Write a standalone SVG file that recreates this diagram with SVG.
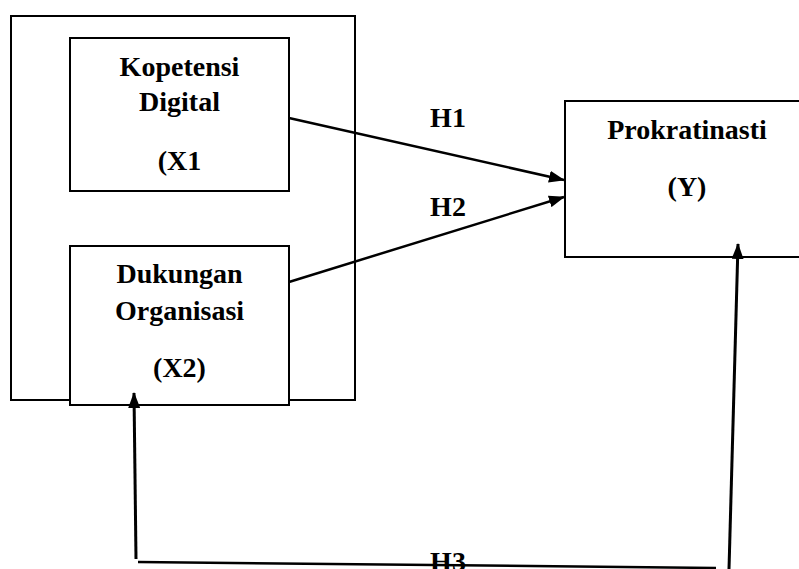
<svg xmlns="http://www.w3.org/2000/svg" width="799" height="569" viewBox="0 0 799 569">
<style>
.box{fill:#fff;stroke:#000;stroke-width:2}
.t{font-family:"Liberation Serif","Times New Roman",serif;font-weight:bold;font-size:28px;fill:#000;text-anchor:middle}
.c{stroke:#000;fill:none}
</style>
<defs>
<marker id="ah" viewBox="0 0 16 12" refX="15" refY="6" markerWidth="16" markerHeight="12" markerUnits="userSpaceOnUse" orient="auto">
<path d="M0,0 L16,6 L0,12 Z" fill="#000"/>
</marker>
</defs>
<rect width="799" height="569" fill="#fff"/>
<g id="group-x">
<rect class="box" x="11" y="16" width="344" height="384" fill="none"/>
</g>
<g id="x1">
<rect class="box" x="70" y="38" width="219" height="153"/>
<text class="t" x="179.5" y="76">Kopetensi</text>
<text class="t" x="179.5" y="111">Digital</text>
<text class="t" x="179.5" y="170">(X1</text>
</g>
<g id="x2">
<rect class="box" x="70" y="246" width="219" height="159"/>
<text class="t" x="179.5" y="283">Dukungan</text>
<text class="t" x="179.5" y="320">Organisasi</text>
<text class="t" x="179.5" y="377">(X2)</text>
</g>
<g id="y">
<rect class="box" x="565" y="101" width="260" height="156"/>
<text class="t" x="687" y="139">Prokratinasti</text>
<text class="t" x="687" y="196">(Y)</text>
</g>
<g id="connectors">
<line class="c" x1="289" y1="118" x2="564" y2="180" stroke-width="2.5" marker-end="url(#ah)"/>
<line class="c" x1="289" y1="282" x2="564" y2="197" stroke-width="2.5" marker-end="url(#ah)"/>
<line class="c" x1="136" y1="559" x2="134" y2="393" stroke-width="3" marker-end="url(#ah)"/>
<line class="c" x1="138" y1="562" x2="716" y2="568" stroke-width="2.5"/>
<line class="c" x1="729" y1="569" x2="738" y2="244" stroke-width="3" marker-end="url(#ah)"/>
<text class="t" x="448" y="127">H1</text>
<text class="t" x="448" y="216">H2</text>
<text class="t" x="448" y="571">H3</text>
</g>
</svg>
